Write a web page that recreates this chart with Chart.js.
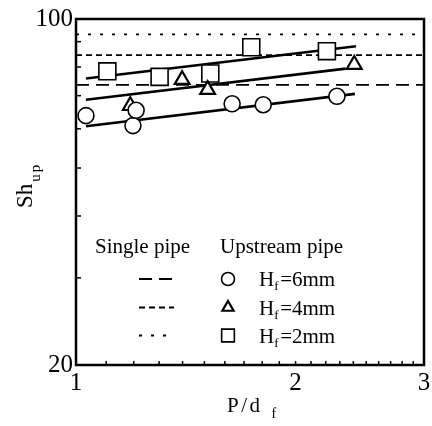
<!DOCTYPE html>
<html>
<head>
<meta charset="utf-8">
<script src="https://cdn.jsdelivr.net/npm/chart.js@4.4.1/dist/chart.umd.min.js"></script>
<style>
  body { margin: 0; background: #fff; }
  #wrap { width: 432px; height: 426px; }
</style>
</head>
<body>
<div id="wrap"><canvas id="shChart"></canvas></div>
<script>
// upstream pipe measurements (P/d_f, Sh_up)
const hf6X = [1.032, 1.197, 1.209, 1.637, 1.806, 2.279];
const hf6Y = [63.8, 60.9, 65.4, 67.4, 67.1, 69.8];
const hf4X = [1.187, 1.398, 1.515, 2.407];
const hf4Y = [66.8, 75.4, 72.0, 80.9];
const hf2X = [1.104, 1.302, 1.528, 1.739, 2.208];
const hf2Y = [78.4, 76.4, 77.6, 87.7, 86.1];

// fitted lines, start and end
const fit6X = [1.032, 2.412], fit6Y = [60.7, 70.6];
const fit4X = [1.032, 2.344], fit4Y = [68.7, 79.4];
const fit2X = [1.032, 2.420], fit2Y = [75.8, 88.1];

// single pipe levels for Hf = 6, 4, 2 mm
const singleX = [1, 3];
const singleY = [73.6, 84.5, 93.1];

const xTicks = [];
for (let i = 10; i <= 30; i++) xTicks.push(i / 10);
const xLabels = [1, 2, 3];
const yTicks = [20, 30, 40, 50, 60, 70, 80, 90, 100];
const yLabels = [20, 100];

const legendLabels = ['6mm', '4mm', '2mm'];

const SERIF = "'Liberation Serif', 'Times New Roman', serif";
const pts = (xs, ys) => xs.map((x, i) => ({ x: x, y: ys[i] }));

function markerSet(label, xs, ys, style, radius, bw) {
    return {
        label: label,
        data: pts(xs, ys),
        pointStyle: style,
        pointRadius: radius,
        pointBorderWidth: bw,
        pointBackgroundColor: '#fff',
        pointBorderColor: '#000',
        showLine: false,
        order: 0
    };
}
function lineSet(xs, ys, dash, width) {
    return {
        data: pts(xs, ys),
        showLine: true,
        borderColor: '#000',
        borderWidth: width,
        borderDash: dash,
        pointRadius: 0,
        fill: false,
        order: 1
    };
}

const singleDash = [[13, 7], [6, 4], [3, 9]];

const datasets = [
    markerSet('Hf=6mm', hf6X, hf6Y, 'circle', 8, 1.6),
    markerSet('Hf=4mm', hf4X, hf4Y, 'triangle', 8.5, 2.2),
    markerSet('Hf=2mm', hf2X, hf2Y, 'rect', 12, 1.6),
    lineSet(fit6X, fit6Y, [], 2.6),
    lineSet(fit4X, fit4Y, [], 2.6),
    lineSet(fit2X, fit2Y, [], 2.6)
];
singleY.forEach((v, i) => {
    datasets.push(lineSet(singleX, [v, v], singleDash[i], 1.8));
});

// frame, inward ticks, axis titles and legend
const decor = {
    id: 'decor',
    afterDraw(chart) {
        const ctx = chart.ctx;
        const a = chart.chartArea;
        const xs = chart.scales.x, ys = chart.scales.y;
        ctx.save();
        ctx.strokeStyle = '#000';
        ctx.fillStyle = '#000';

        ctx.lineWidth = 1.5;
        xTicks.slice(1, -1).forEach(v => {
            const px = xs.getPixelForValue(v);
            ctx.beginPath();
            ctx.moveTo(px, a.bottom);
            ctx.lineTo(px, a.bottom - 4);
            ctx.stroke();
        });
        yTicks.slice(1, -1).forEach(v => {
            const py = ys.getPixelForValue(v);
            ctx.beginPath();
            ctx.moveTo(a.left, py);
            ctx.lineTo(a.left + 5, py);
            ctx.stroke();
        });

        ctx.lineWidth = 2.5;
        ctx.strokeRect(a.left, a.top, a.right - a.left, a.bottom - a.top);

        // y title Sh_up
        ctx.save();
        ctx.translate(32, 208);
        ctx.rotate(-Math.PI / 2);
        ctx.textBaseline = 'alphabetic';
        ctx.font = '23px ' + SERIF;
        ctx.fillText('Sh', 0, 0);
        let w = ctx.measureText('Sh').width;
        ctx.font = '15px ' + SERIF;
        ctx.letterSpacing = '2px';
        ctx.fillText('up', w + 2, 8);
        ctx.restore();

        // x title P/d_f
        ctx.textBaseline = 'alphabetic';
        ctx.font = '21px ' + SERIF;
        ctx.letterSpacing = '2.5px';
        ctx.fillText('P/d', 227, 412);
        w = ctx.measureText('P/d').width;
        ctx.font = '14px ' + SERIF;
        ctx.letterSpacing = '0px';
        ctx.fillText('f', 227 + w + 9, 418);

        // legend
        ctx.font = '21px ' + SERIF;
        ctx.fillText('Single pipe', 95, 253);
        ctx.fillText('Upstream pipe', 220, 253);
        const rowY = [279, 307.5, 335.5];
        rowY.forEach((y, i) => {
            const single = chart.data.datasets[6 + i];
            ctx.lineWidth = 1.8;
            ctx.setLineDash(single.borderDash);
            ctx.beginPath();
            ctx.moveTo(139, y);
            ctx.lineTo(174, y);
            ctx.stroke();
            ctx.setLineDash([]);

            const m = chart.data.datasets[i];
            ctx.lineWidth = m.pointBorderWidth;
            ctx.fillStyle = '#fff';
            Chart.helpers.drawPoint(ctx, {
                pointStyle: m.pointStyle,
                radius: m.pointStyle === 'rect' ? 9 : 6.5,
                borderWidth: m.pointBorderWidth,
                rotation: 0
            }, 228, y);
            ctx.fillStyle = '#000';

            ctx.font = '21px ' + SERIF;
            ctx.fillText('H', 259, y + 7);
            const hw = ctx.measureText('H').width;
            ctx.font = '13px ' + SERIF;
            ctx.fillText('f', 259 + hw, y + 11);
            ctx.font = '21px ' + SERIF;
            ctx.fillText('=' + legendLabels[i], 259 + hw + 6, y + 7);
        });
        ctx.restore();
    }
};

new Chart(document.getElementById('shChart').getContext('2d'), {
    type: 'scatter',
    data: { datasets: datasets },
    options: {
        responsive: true,
        maintainAspectRatio: false,
        animation: false,
        layout: { autoPadding: false, padding: { left: 0, right: 8, top: 19, bottom: 0 } },
        plugins: { legend: { display: false }, tooltip: { enabled: false } },
        scales: {
            x: {
                type: 'logarithmic',
                min: 1,
                max: 3,
                afterBuildTicks: s => { s.ticks = xTicks.map(v => ({ value: v })); },
                afterFit: s => {
                    s.height = 61;
                    s.paddingLeft = 0;
                    s.paddingRight = 0;
                },
                grid: { display: false, drawTicks: false },
                border: { display: false },
                ticks: {
                    autoSkip: false,
                    maxRotation: 0,
                    padding: 3,
                    color: '#000',
                    font: { family: SERIF, size: 25 },
                    callback: v => xLabels.includes(v) ? String(v) : ''
                }
            },
            y: {
                type: 'logarithmic',
                min: 20,
                max: 100,
                afterBuildTicks: s => { s.ticks = yTicks.map(v => ({ value: v })); },
                afterFit: s => {
                    s.width = 76;
                    s.paddingTop = 0;
                    s.paddingBottom = 0;
                },
                grid: { display: false, drawTicks: false },
                border: { display: false },
                ticks: {
                    autoSkip: false,
                    padding: 3,
                    color: '#000',
                    font: { family: SERIF, size: 25 },
                    callback: v => yLabels.includes(v) ? String(v) : ''
                }
            }
        }
    },
    plugins: [decor]
});
</script>
</body>
</html>
